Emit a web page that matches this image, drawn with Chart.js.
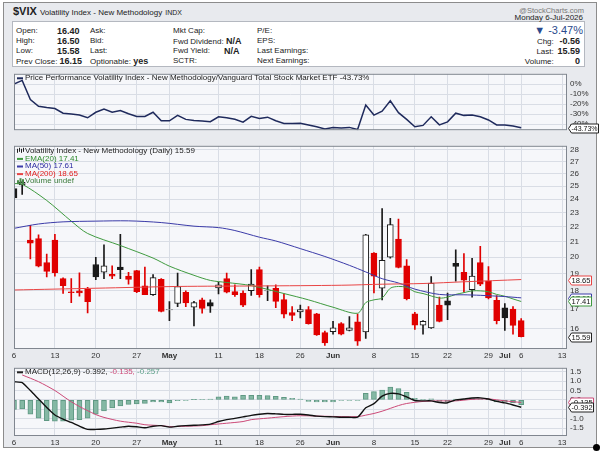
<!DOCTYPE html>
<html>
<head>
<meta charset="utf-8">
<script src="https://cdn.jsdelivr.net/npm/chart.js@4.4.0/dist/chart.umd.min.js"></script>
<style>
  body { margin: 0; background: #fff; font-family: 'Liberation Sans', Arial, sans-serif; }
  #wrap { position: relative; width: 600px; height: 454px; overflow: hidden; background: #fff; }
  #frame { position: absolute; left: 3px; top: 2px; width: 592px; height: 444px; border: 1px solid #8c8c8c; background: #e8eaee; }
  #stats { position: absolute; left: 12px; top: 21px; width: 571px; height: 44px; background: #fff; border: 1px solid #b4b8c0; }
  .t { position: absolute; font-size: 8px; color: #222; white-space: nowrap; line-height: 10px; }
  .b { font-weight: bold; font-size: 9px; }
  canvas { position: absolute; left: 0; }
  #grip { position: absolute; left: 593px; top: 444px; width: 7px; height: 7px; border-radius: 50%; background: #000; }
</style>
</head>
<body>
<div id="wrap">
  <div id="frame"></div>
  <div class="t" style="left:13px;top:5px;font-size:11px;line-height:12px"><b>$VIX</b> <span style="font-size:8px">Volatility Index - New Methodology</span> <span style="font-size:7px">INDX</span></div>
  <div class="t" style="right:16px;top:6px;color:#777;font-size:7.5px">@StockCharts.com</div>
  <div id="stats"></div>
  <div class="t" id="hdrDate" style="right:17px;top:13px"></div>
  <div class="t" id="hdrPct" style="right:17px;top:24px;font-size:11px;line-height:12px;color:#2a4a8c"></div>
  <canvas id="perf" width="600" height="72" style="top:66px"></canvas>
  <canvas id="main" width="600" height="222" style="top:138px"></canvas>
  <canvas id="macd" width="600" height="88" style="top:360px"></canvas>
  <div id="grip"></div>
</div>
<script>
// ---- data (index 0 = Mon 6-Apr, one step per trading day) ----
const opens  = [24.8,25.1,21.1,21.2,19.67,21.1,18.7,17.95,18.0,18.1,19.55,19.08,18.96,19.4,18.85,19.18,18.29,17.78,18.66,16.95,
                17.31,17.92,17.1,17.5,17.35,18.16,18.7,17.96,17.87,18.01,19.24,18.0,18.14,17.51,16.82,16.85,16.98,16.75,15.79,15.84,
                16.24,15.9,16.33,15.82,20.27,18.15,20.0,21.18,19.47,16.75,16.17,16.03,17.21,17.44,19.63,19.08,18.07,19.67,18.56,17.47,
                17.07,17.0,16.40];
const highs  = [24.85,25.35,22.1,21.45,20.2,21.5,18.75,18.7,19.05,18.2,20.0,20.8,19.47,21.5,19.08,19.2,19.4,18.95,18.7,17.4,
                19.04,18.0,17.42,17.6,17.5,18.5,19.04,18.34,18.0,19.24,19.4,18.29,18.34,17.83,17.13,17.21,17.13,16.78,15.87,16.36,
                16.3,16.6,16.73,21.5,20.3,23.3,22.6,22.55,19.85,16.83,16.4,18.82,17.65,17.87,20.48,20.24,19.93,20.7,19.43,17.74,
                17.29,17.13,16.50];
const lows   = [24.05,24.35,19.9,19.4,18.8,18.85,17.85,17.35,17.7,16.8,18.65,18.7,18.7,18.7,18.38,17.9,17.78,17.75,16.85,16.4,
                17.13,17.13,16.12,16.78,16.82,17.83,17.88,17.69,17.13,17.74,17.65,17.45,17.07,16.53,16.39,16.53,16.22,15.65,15.17,15.71,
                15.68,15.87,15.17,15.5,17.88,17.5,19.95,19.35,17.5,15.95,15.71,16.0,16.33,16.44,18.56,17.92,17.65,18.29,17.55,16.23,
                15.9,15.71,15.58];
const closes = [24.1,25.3,20.9,19.45,19.13,19.05,18.3,17.9,17.88,17.4,18.8,19.47,18.85,19.24,18.66,17.96,17.78,18.76,16.87,16.97,
                18.25,17.33,17.35,17.04,17.16,18.34,17.92,17.79,17.21,18.38,17.79,18.01,17.42,16.73,16.66,16.98,16.24,15.68,15.29,16.03,
                15.71,16.03,15.37,21.46,18.85,19.81,22.16,19.37,17.56,16.17,16.36,18.44,16.36,17.21,19.43,18.62,18.85,18.38,17.6,16.39,
                16.53,16.15,15.59];

const emaIdx   = [0,1,4,7,9,13,17,19,22,24,26,29,33,36,39,42,43,44,45,46,47,48,49,50,52,53,54,55,56,57,58,59,60,61,62];
const emaVals  = [25.2,25.15,23.9,22.4,21.55,20.75,19.95,19.45,18.9,18.6,18.48,18.3,17.85,17.5,17.1,16.78,17.35,17.5,17.6,18.15,18.25,18.2,17.95,17.85,17.6,17.65,17.8,17.9,18.0,18.0,17.95,17.8,17.7,17.55,17.41];
const ma50Idx  = [0,3,6,10,14,18,22,25,27,30,32,35,38,41,43,45,47,49,52,55,57,60,62];
const ma50Vals = [21.9,22.2,22.35,22.4,22.42,22.3,22.05,21.95,21.75,21.3,21.05,20.55,20.05,19.5,19.1,18.7,18.45,18.1,17.8,17.78,17.75,17.68,17.61];
const ma200Idx = [0,10,20,30,40,45,50,55,62];
const ma200Vals= [18.05,18.15,18.25,18.28,18.32,18.38,18.42,18.52,18.65];

const perfVals = [0,3.6,-15.5,-22.3,-23.5,-24.5,-29.1,-30,-31,-33.7,-28.2,-25,-28.2,-26.4,-29.6,-32.3,-32.3,-28.2,-36.7,-36.7,
                  -31.3,-35.3,-36.4,-37,-37.6,-32.7,-33.7,-35.1,-38,-32.3,-34.5,-33.1,-36.7,-39.4,-39.4,-39.2,-41,-42.7,-44.9,-43.3,
                  -44,-43.3,-45.4,-20.9,-31,-27.2,-16.8,-28.6,-35.3,-42.7,-41.3,-32.7,-40.8,-37.8,-29.1,-31.3,-31,-32.7,-35.9,-40.8,
                  -40.8,-41.9,-43.73];

const macdVals = [0.97,0.92,0.5,0.05,-0.4,-0.8,-1.02,-1.2,-1.4,-1.57,-1.57,-1.55,-1.5,-1.45,-1.4,-1.43,-1.48,-1.4,-1.37,-1.45,
                  -1.4,-1.37,-1.35,-1.33,-1.29,-1.15,-1.05,-0.98,-0.9,-0.82,-0.76,-0.72,-0.74,-0.77,-0.77,-0.76,-0.8,-0.86,-0.89,-0.9,
                  -0.92,-0.92,-0.92,-0.42,-0.2,0.2,0.35,0.32,0.16,-0.03,-0.05,-0.05,-0.14,-0.15,0.0,0.05,0.1,0.11,0.05,-0.08,
                  -0.16,-0.27,-0.392];
const sigIdx   = [1,3,5,6,7,8,9,10,11,13,15,16,18,19,21,23,24,26,28,29,31,33,35,38,42,43,44,45,46,47,48,50,52,54,56,58,60,62];
const sigVals  = [1.33,0.97,0.5,0.2,-0.1,-0.35,-0.57,-0.78,-0.93,-1.13,-1.24,-1.32,-1.37,-1.42,-1.4,-1.37,-1.32,-1.24,-1.15,-1.05,-0.97,-0.89,-0.84,-0.87,-0.89,-0.81,-0.72,-0.6,-0.45,-0.3,-0.19,-0.08,-0.05,-0.05,0.03,0.05,-0.05,-0.135];
const histVals = [-0.5,-0.48,-0.76,-0.97,-1.1,-1.13,-1.13,-1.08,-1.05,-0.97,-0.76,-0.58,-0.42,-0.32,-0.24,-0.21,-0.18,-0.11,-0.11,-0.16,
                  -0.04,-0.02,0.02,0.03,0.04,0.16,0.2,0.16,0.24,0.24,0.24,0.23,0.19,0.14,0.08,0.05,-0.08,-0.1,-0.1,-0.1,
                  -0.03,-0.03,-0.02,0.35,0.44,0.53,0.69,0.61,0.4,0.08,0.03,0.06,-0.08,-0.1,0.04,0.05,0.07,0.06,0.02,-0.1,
                  -0.12,-0.15,-0.257];

const tickIdx   = [0,5,10,15,19,25,30,35,39,44,49,53,58,60,62,67];
const tickText  = ['6','13','20','27','May','11','18','26','Jun','8','15','22','29','Jul','6','13'];
const monthText = ['May','Jun','Jul'];
const priceTicks = [16,17,18,19,20,21,22,23,24,25,26,27,28];
const perfTicks  = [0,-10,-20,-30,-40];
const macdTicks  = [1.5,1,0.5,0,-0.5,-1,-1.5];

// ---- styling ----
const FONT = "'Liberation Sans', Arial, sans-serif";
const GRID = '#d9dde5';
const RED = '#e00000', BLACK = '#1a1a1a';
const X_MAX = 67.6;
const last = closes.length - 1;

// header
const stats = document.getElementById('stats');
function put(x, y, html, cls) {
  const d = document.createElement('div');
  d.className = 't' + (cls ? ' ' + cls : '');
  d.style.left = x + 'px'; d.style.top = y + 'px';
  d.innerHTML = html;
  stats.appendChild(d);
}
const rows = [4, 14, 24, 34];
put(3, rows[0], 'Open:'); put(44, rows[0], opens[last].toFixed(2), 'b');
put(3, rows[1], 'High:'); put(44, rows[1], highs[last].toFixed(2), 'b');
put(3, rows[2], 'Low:');  put(44, rows[2], lows[last].toFixed(2), 'b');
put(3, rows[3], 'Prev Close: <b style="font-size:9px">' + closes[last - 1].toFixed(2) + '</b>');
put(77, rows[0], 'Ask:'); put(77, rows[1], 'Bid:'); put(77, rows[2], 'Last:');
put(77, rows[3], 'Optionable: <b style="font-size:9px">yes</b>');
put(160, rows[0], 'Mkt Cap:');
put(160, rows[1], 'Fwd Dividend: <b style="font-size:9px">N/A</b>');
put(160, rows[2], 'Fwd Yield:'); put(211, rows[2], 'N/A', 'b');
put(160, rows[3], 'SCTR:');
put(244, rows[0], 'P/E:'); put(244, rows[1], 'EPS:');
put(244, rows[2], 'Last Earnings:'); put(244, rows[3], 'Next Earnings:');
const chg = closes[last] - closes[last - 1];
function putR(y, label, val) {
  const d = document.createElement('div');
  d.className = 't';
  d.style.right = '4px'; d.style.top = y + 'px';
  d.innerHTML = label + ' <b style="font-size:9px;display:inline-block;min-width:24px;text-align:right">' + val + '</b>';
  stats.appendChild(d);
}
putR(rows[1], 'Chg:', chg.toFixed(2));
putR(rows[2], 'Last:', closes[last].toFixed(2));
putR(rows[3], 'Volume:', '0');
document.getElementById('hdrDate').textContent = 'Monday 6-Jul-2026';
document.getElementById('hdrPct').textContent = '\u25BC ' + (chg / closes[last - 1] * 100).toFixed(2) + '%';

// ---- panel decoration plugin: plot background, frame, legend text, value boxes ----
const panelPlugin = {
  id: 'panel',
  beforeDraw(chart) {
    const { ctx, chartArea: a } = chart;
    ctx.save();
    ctx.fillStyle = '#f6f7fa';
    ctx.fillRect(a.left, a.top, a.width, a.height);
    ctx.restore();
  },
  afterDraw(chart, args, opts) {
    const { ctx, chartArea: a } = chart;
    ctx.save();
    ctx.strokeStyle = '#80868f';
    ctx.lineWidth = 1;
    ctx.strokeRect(a.left + 0.5, a.top + 0.5, a.width - 1, a.height - 1);
    ctx.font = '8px ' + FONT;
    ctx.textBaseline = 'middle';
    (opts.legend || []).forEach((row, k) => {
      const y = a.top + opts.legendTop + k * 7.6;
      let x = a.left + 3;
      ctx.fillStyle = row.icon;
      if (row.kind === 'candle') {
        ctx.fillRect(x, y - 2, 1, 4); ctx.fillRect(x + 2, y - 3, 1, 4); ctx.fillRect(x + 4, y - 2, 1, 4); ctx.fillRect(x + 6, y - 3, 1, 4);
      } else if (row.kind === 'vol') {
        ctx.fillRect(x, y - 1, 2, 4); ctx.fillRect(x + 2.5, y - 3, 2, 6); ctx.fillRect(x + 5, y - 2, 2, 5);
      } else {
        ctx.fillRect(x, y - 0.5, 6, 2);
      }
      x += 8;
      row.parts.forEach(p => {
        ctx.fillStyle = p.color;
        ctx.fillText(p.text, x, y);
        x += ctx.measureText(p.text).width;
      });
    });
    (opts.boxes || []).forEach(b => {
      const y = Math.round(chart.scales.y.getPixelForValue(b.value)) + 0.5;
      const x0 = a.right + 1.5, h = 9;
      ctx.beginPath();
      ctx.moveTo(x0, y);
      ctx.lineTo(x0 + 3, y - h / 2);
      ctx.lineTo(x0 + b.w, y - h / 2);
      ctx.lineTo(x0 + b.w, y + h / 2);
      ctx.lineTo(x0 + 3, y + h / 2);
      ctx.closePath();
      ctx.fillStyle = '#fff';
      ctx.fill();
      ctx.strokeStyle = b.color;
      ctx.stroke();
      ctx.fillStyle = '#111';
      ctx.font = (b.size || 8) + 'px ' + FONT;
      ctx.fillText(b.text, x0 + 3, y + 0.5, b.w - 4);
    });
    ctx.restore();
  }
};

function xScale(showLabels, h) {
  return {
    type: 'linear', min: 0, max: X_MAX, offset: false,
    afterBuildTicks: s => { s.ticks = tickIdx.map(v => ({ value: v })); },
    afterFit: s => { s.height = h; },
    grid: { color: GRID, drawTicks: false, offset: false },
    border: { display: false },
    ticks: {
      display: showLabels, padding: 2, color: '#333', maxRotation: 0, autoSkip: false,
      callback: v => tickText[tickIdx.indexOf(v)],
      font: c => ({ family: FONT, size: 8, weight: monthText.includes(tickText[tickIdx.indexOf(c.tick && c.tick.value)]) ? 'bold' : 'normal' })
    }
  };
}
function yScale(type, min, max, ticks, fmt) {
  return {
    type, position: 'right', min, max,
    afterBuildTicks: s => { s.ticks = ticks.map(v => ({ value: v })); },
    afterFit: s => { s.width = 33; },
    grid: { color: GRID, drawTicks: false },
    border: { display: false },
    ticks: { padding: 3, color: '#333', autoSkip: false, font: { family: FONT, size: 8 }, callback: fmt }
  };
}
const pts = (idx, vals) => idx.map((x, k) => ({ x, y: vals[k] }));
const common = {
  responsive: false, animation: false, events: [],
  plugins: { legend: { display: false }, tooltip: { enabled: false } }
};

// ---- price performance panel ----
new Chart(document.getElementById('perf'), {
  type: 'line',
  data: { datasets: [{ data: perfVals.map((y, x) => ({ x, y })), borderColor: '#1f2a5c', borderWidth: 1.5, pointRadius: 0, tension: 0 }] },
  options: {
    ...common,
    layout: { padding: { left: 14, right: 0, top: 1, bottom: 2 } },
    scales: { x: xScale(false, 0), y: yScale('linear', -46.1, 10.2, perfTicks, v => v + '%') },
    plugins: {
      ...common.plugins,
      panel: {
        legendTop: 4,
        legend: [{ icon: '#1f2a5c', parts: [{ text: 'Price Performance Volatility Index - New Methodology/Vanguard Total Stock Market ETF ' + perfVals[last].toFixed(2) + '%', color: '#222' }] }],
        boxes: [{ value: perfVals[last], text: perfVals[last].toFixed(2) + '%', color: '#222', w: 30, size: 7.5 }]
      }
    }
  },
  plugins: [panelPlugin]
});

// ---- candlestick panel ----
const candleColor = closes.map((c, i) => (i > 0 && c < closes[i - 1]) ? RED : BLACK);
const bodyFill = closes.map((c, i) => c < opens[i] ? candleColor[i] : '#ffffff');
new Chart(document.getElementById('main'), {
  type: 'bar',
  data: {
    datasets: [
      { type: 'line', order: 0, data: pts(ma200Idx, ma200Vals), borderColor: '#e84545', borderWidth: 1, pointRadius: 0, tension: 0.3 },
      { type: 'line', order: 0, data: pts(ma50Idx, ma50Vals), borderColor: '#3b3ba8', borderWidth: 1, pointRadius: 0, tension: 0.3 },
      { type: 'line', order: 0, data: pts(emaIdx, emaVals), borderColor: '#3f9a3f', borderWidth: 1, pointRadius: 0, tension: 0.3 },
      { order: 1, grouped: false, barThickness: 6, borderSkipped: false, borderWidth: 1,
        data: opens.map((o, i) => ({ x: i, y: [o, closes[i]] })),
        backgroundColor: bodyFill, borderColor: candleColor },
      { order: 2, grouped: false, barThickness: 1, borderWidth: 0,
        data: lows.map((l, i) => ({ x: i, y: [l, highs[i]] })),
        backgroundColor: candleColor }
    ]
  },
  options: {
    ...common,
    layout: { padding: { left: 14, right: 0, top: 1, bottom: 0 } },
    scales: { x: xScale(true, 11), y: yScale('logarithmic', 15.0, 28.37, priceTicks, v => String(v)) },
    plugins: {
      ...common.plugins,
      panel: {
        legendTop: 5,
        legend: [
          { kind: 'candle', icon: '#222', parts: [{ text: 'Volatility Index - New Methodology (Daily) ' + closes[last].toFixed(2), color: '#222' }] },
          { icon: '#3f9a3f', parts: [{ text: 'EMA(20) ' + emaVals[emaVals.length - 1].toFixed(2), color: '#2e8b2e' }] },
          { icon: '#3b3ba8', parts: [{ text: 'MA(50) ' + ma50Vals[ma50Vals.length - 1].toFixed(2), color: '#2a2aa0' }] },
          { icon: '#e84545', parts: [{ text: 'MA(200) ' + ma200Vals[ma200Vals.length - 1].toFixed(2), color: '#e02020' }] },
          { kind: 'vol', icon: '#4a8a4a', parts: [{ text: 'Volume undef', color: '#3a7a3a' }] }
        ],
        boxes: [
          { value: ma200Vals[ma200Vals.length - 1], text: ma200Vals[ma200Vals.length - 1].toFixed(2), color: '#e84545', w: 23 },
          { value: ma50Vals[ma50Vals.length - 1], text: ma50Vals[ma50Vals.length - 1].toFixed(2), color: '#3b3ba8', w: 23 },
          { value: emaVals[emaVals.length - 1], text: emaVals[emaVals.length - 1].toFixed(2), color: '#3f9a3f', w: 23 },
          { value: closes[last], text: closes[last].toFixed(2), color: '#222', w: 23 }
        ]
      }
    }
  },
  plugins: [panelPlugin]
});

// ---- MACD panel ----
new Chart(document.getElementById('macd'), {
  type: 'bar',
  data: {
    datasets: [
      { type: 'line', order: 0, data: macdVals.map((y, x) => ({ x, y })), borderColor: '#111', borderWidth: 1.4, pointRadius: 0, tension: 0.2 },
      { type: 'line', order: 0, data: pts(sigIdx, sigVals), borderColor: '#cc4a78', borderWidth: 1, pointRadius: 0, tension: 0.3 },
      { order: 1, grouped: false, barThickness: 5, borderWidth: 1, borderSkipped: false,
        data: histVals.map((y, x) => ({ x, y })),
        backgroundColor: '#84b8a4', borderColor: '#5f9883' }
    ]
  },
  options: {
    ...common,
    layout: { padding: { left: 14, right: 0, top: 1, bottom: 0 } },
    scales: { x: xScale(true, 12), y: yScale('linear', -1.92, 1.71, macdTicks, v => v.toFixed(1)) },
    plugins: {
      ...common.plugins,
      panel: {
        legendTop: 4,
        legend: [{ icon: '#222', parts: [
          { text: 'MACD(12,26,9) ' + macdVals[last].toFixed(3) + ', ', color: '#222' },
          { text: sigVals[sigVals.length - 1].toFixed(3) + ', ', color: '#cc4a78' },
          { text: histVals[last].toFixed(3), color: '#5fa08a' }
        ] }],
        boxes: [
          { value: sigVals[sigVals.length - 1], text: sigVals[sigVals.length - 1].toFixed(3), color: '#cc4a78', w: 25 },
          { value: macdVals[last], text: macdVals[last].toFixed(3), color: '#222', w: 25 }
        ]
      }
    }
  },
  plugins: [panelPlugin]
});
</script>
</body>
</html>
